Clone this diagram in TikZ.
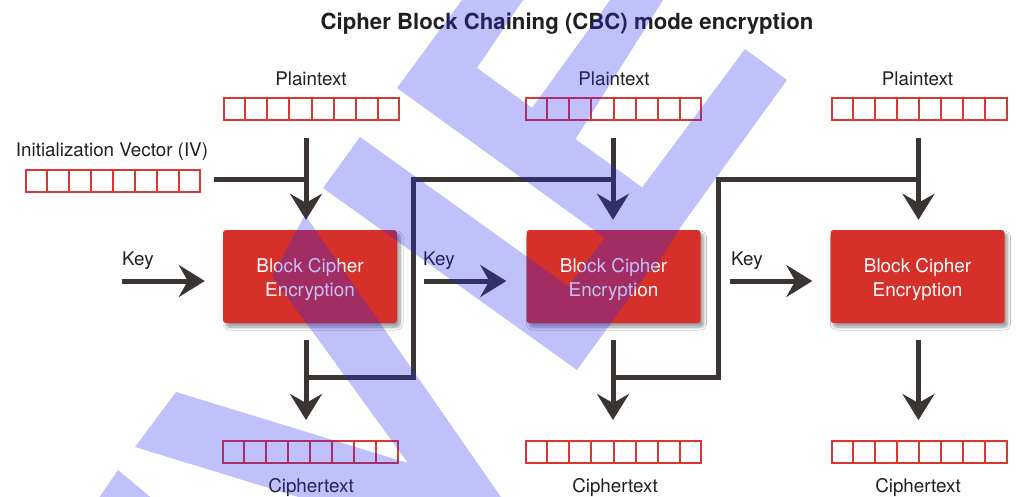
\documentclass[tikz,border=0pt]{standalone}
\usepackage{fontspec}
\setmainfont{TeX Gyre Heros}
\usetikzlibrary{arrows.meta,shadows.blur,calc}
\definecolor{boxred}{RGB}{213,48,42}
\definecolor{cellred}{RGB}{221,52,52}
\definecolor{arr}{RGB}{58,53,50}
\definecolor{txt}{RGB}{35,31,32}
\definecolor{wm}{RGB}{40,40,240}
\begin{document}
\begin{tikzpicture}[x=1pt,y=-1pt,
  lbl/.style={font=\fontsize{18.8}{22}\selectfont, text=txt, inner sep=0pt, anchor=base},
  titlefont/.style={font=\fontsize{22.2}{26}\selectfont\bfseries, text=txt, inner sep=0pt, anchor=base},
  cellbox/.style={draw=cellred, line width=2pt, minimum width=175pt, minimum height=22pt, inner sep=0pt},
  cellline/.style={draw=cellred, line width=2pt},
  cipher/.style={fill=boxred, rounded corners=3pt, minimum width=174pt, minimum height=93pt, inner sep=0pt,
    blur shadow={shadow xshift=3pt, shadow yshift=-4pt, shadow blur radius=3pt, shadow blur steps=8, shadow opacity=40}},
  ciphertext/.style={text=white, align=center, font=\fontsize{18.9}{24}\selectfont, inner sep=0pt, yshift=-3pt},
  flow/.style={line width=5pt, draw=arr, line join=miter},
  tip/.style={-{Stealth[length=26pt,width=32pt,inset=9pt]}}]
\useasboundingbox (0,0) rectangle (1016,496);
\fill[white] (0,0) rectangle (1016,496);

% title
\node[titlefont] (title) at (567,29) {Cipher Block Chaining (CBC) mode encryption};

% plaintext
\node[lbl] (lp1) at (311,85) {Plaintext};
\node[lbl] (lp2) at (614,85) {Plaintext};
\node[lbl] (lp3) at (917.5,85) {Plaintext};
\node[cellbox] (p1) at (311.5,109) {};
\node[cellbox] (p2) at (613.5,109) {};
\node[cellbox] (p3) at (919,109) {};

% IV
\node[lbl] (liv) at (112,156) {Initialization Vector (IV)};
\node[cellbox, minimum width=174pt] (iv) at (113,180.5) {};

% ciphertext
\node[cellbox] (c1) at (310,451.5) {};
\node[cellbox] (c2) at (613.5,451.5) {};
\node[cellbox] (c3) at (919,451.5) {};
\node[lbl] (lc1) at (311,492) {Ciphertext};
\node[lbl] (lc2) at (615,492) {Ciphertext};
\node[lbl] (lc3) at (918,492) {Ciphertext};

\foreach \b in {p1,p2,p3,iv,c1,c2,c3}{
  \foreach \i in {1,...,7}{
    \draw[cellline] ($(\b.north west)!\i/8!(\b.north east)$) -- ($(\b.south west)!\i/8!(\b.south east)$);
  }
}

% blocks
\node[cipher] (b1) at (310,276.5) {};
\node[cipher] (b2) at (613.5,276.5) {};
\node[cipher] (b3) at (917.5,276.5) {};
\node[ciphertext] (b1t) at (b1.center) {Block Cipher\\Encryption};
\node[ciphertext] (b2t) at (b2.center) {Block Cipher\\Encryption};
\node[ciphertext] (b3t) at (b3.center) {Block Cipher\\Encryption};

% keys
\node[lbl, anchor=base west] (k1) at (122,265) {Key};
\node[lbl, anchor=base west] (k2) at (423,265) {Key};
\node[lbl, anchor=base west] (k3) at (731,265) {Key};
\coordinate (ks1) at (122,281);
\coordinate (ks2) at (424,281);
\coordinate (ks3) at (730,281);
\draw[flow,tip] (ks1) -- ($(b1.west)+(-18,4.5)$);
\draw[flow,tip] (ks2) -- ($(b2.west)+(-20,4.5)$);
\draw[flow,tip] (ks3) -- ($(b3.west)+(-18,4.5)$);

% plaintext -> block
\draw[flow,tip] ($(p1.south)+(-5.5,17)$) -- ($(b1.north)+(-4,-10)$);
\draw[flow,tip] ($(p2.south)+(-0.5,17)$) -- ($(b2.north)+(-0.5,-10)$);
\draw[flow,tip] ($(p3.south)+(-0.5,17)$) -- ($(b3.north)+(1,-10)$);

% block -> ciphertext
\draw[flow,tip] ($(b1.south)+(-4,17)$) -- ($(c1.north)+(-4,-19.5)$);
\draw[flow,tip] ($(b2.south)+(-0.5,17)$) -- ($(c2.north)+(-0.5,-19.5)$);
\draw[flow,tip] ($(b3.south)+(1,17)$) -- ($(c3.north)+(-0.5,-19.5)$);

% junctions
\coordinate (j1) at (306,179);
\coordinate (j2) at (613,179);
\coordinate (j3) at (918.5,179);
\coordinate (f1) at (306,377);
\coordinate (f2) at (613,377);
\coordinate (t1) at (413,179);
\coordinate (t2) at (718,179);

\draw[flow] ($(iv.east)+(13,-1.5)$) -- (j1);
\draw[flow] (f1) -| (t1) -- (j2);
\draw[flow] (f2) -| (t2) -- (j3);

% watermark overlay
\begin{scope}
\clip (0,0) rectangle (1016,496);
\fill[wm, opacity=0.29, nonzero rule]
  (397,88) -- (462,0) -- (523,0) -- (477,68) -- cycle
  (397,88) -- (477,68) -- (686,219) -- (652,272) -- cycle
  (516,130) -- (610,0) -- (663,0) -- (563,159) -- cycle
  (745,49) -- (787,80) -- (577,370) -- (540,325) -- cycle
  (323,188) -- (360,137) -- (614,319) -- (577,370) -- cycle
  (305,215) -- (510,510) -- (341,510) -- (135,447) -- (176,392) -- (408,463) -- (272,276) -- cycle
  (118,470) -- (160,505) -- (94,505) -- cycle;
\end{scope}
\end{tikzpicture}
\end{document}
